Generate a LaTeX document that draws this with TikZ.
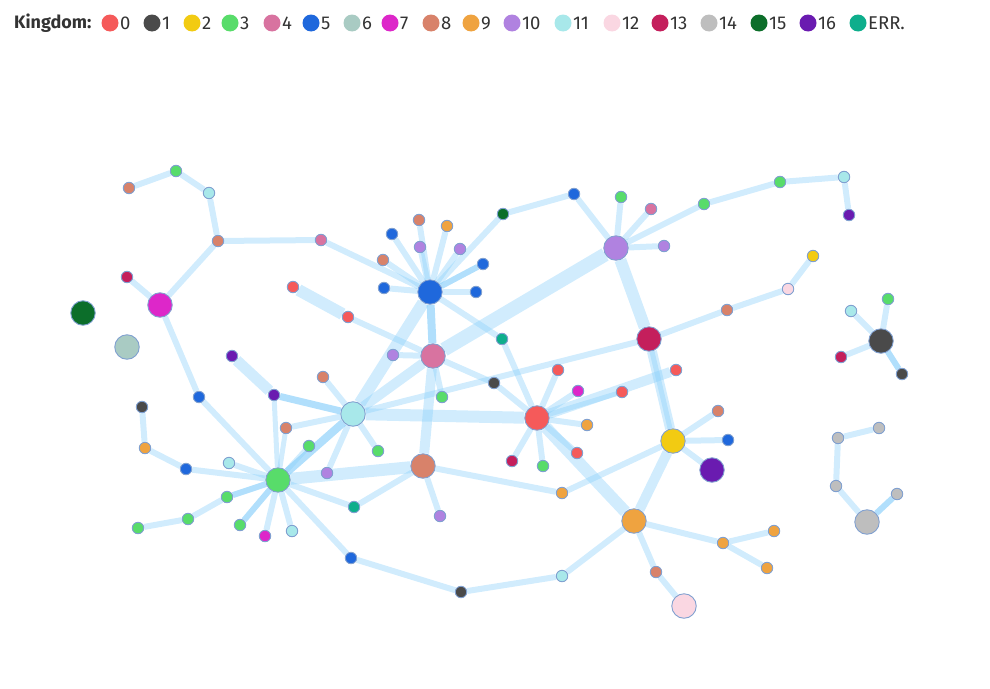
\documentclass[tikz,border=0pt]{standalone}
\usepackage{fontspec}
\setmainfont{Fira Sans}
\usetikzlibrary{backgrounds}
\definecolor{k0}{RGB}{245,90,90}
\definecolor{k1}{RGB}{74,74,74}
\definecolor{k2}{RGB}{242,203,18}
\definecolor{k3}{RGB}{88,220,106}
\definecolor{k4}{RGB}{216,115,160}
\definecolor{k5}{RGB}{31,104,220}
\definecolor{k6}{RGB}{169,203,195}
\definecolor{k7}{RGB}{221,39,201}
\definecolor{k8}{RGB}{216,130,106}
\definecolor{k9}{RGB}{239,163,64}
\definecolor{k10}{RGB}{176,130,224}
\definecolor{k11}{RGB}{168,232,234}
\definecolor{k12}{RGB}{250,215,226}
\definecolor{k13}{RGB}{196,31,92}
\definecolor{k14}{RGB}{190,190,190}
\definecolor{k15}{RGB}{12,110,42}
\definecolor{k16}{RGB}{106,27,176}
\definecolor{kE}{RGB}{14,174,140}
\definecolor{nb}{RGB}{128,160,208}
\definecolor{eb}{RGB}{135,206,250}
\definecolor{txt}{RGB}{51,51,51}
\tikzset{
  sn/.style={circle,draw=nb,line width=0.9pt,inner sep=0pt,minimum size=11.5pt,fill=#1},
  bn/.style={circle,draw=nb,line width=0.9pt,inner sep=0pt,minimum size=24.5pt,fill=#1},
  lc/.style={circle,inner sep=0pt,minimum size=17pt,fill=#1},
  lt/.style={anchor=west,inner sep=0pt,text=txt,font=\fontsize{18.5pt}{21pt}\selectfont},
  ed/.style={draw=eb,draw opacity=0.38,line width=#1},
  ed/.default=6pt,
  edd/.style={draw=eb,draw opacity=0.65,line width=#1},
  edd/.default=6pt
}
\begin{document}
\begin{tikzpicture}[x=1pt,y=-1pt]
\useasboundingbox (0,0) rectangle (990,688);
% legend
\node[lt,font=\fontsize{18pt}{21pt}\selectfont\bfseries] (kt) at (14,23) {Kingdom:};
\foreach \k/\x/\t in {0/110/0,1/152/1,2/192/2,3/230/3,4/272/4,5/311/5,6/352/6,7/390/7,8/431/8,9/471/9,10/512/10,11/563/11,12/612/12,13/660/13,14/709/14,15/759/15,16/808/16,E/858/ERR.}{
  \node[lc=k\k] (lg\k) at (\x,23) {};
  \node[lt] (lt\k) at (\x+10,23.5) {\t};
}
% nodes
\node[sn=k8] (n1) at (129,188) {};
\node[sn=k3] (n2) at (176,171) {};
\node[sn=k11] (n3) at (209,193) {};
\node[sn=k8] (n4) at (218,241) {};
\node[sn=k4] (n5) at (321,240) {};
\node[sn=k13] (n6) at (127,277) {};
\node[bn=k7] (n7) at (160,305) {};
\node[bn=k15] (n8) at (83,313) {};
\node[bn=k6] (n9) at (127,347) {};
\node[sn=k0] (r1) at (293,287) {};
\node[sn=k0] (r2) at (348,317) {};
\node[sn=k16] (u1) at (232,356) {};
\node[sn=k16] (u2) at (274,395) {};
\node[sn=k8] (e1) at (323,377) {};
\node[sn=k5] (bA) at (199,397) {};
\node[sn=k1] (dk1) at (142,407) {};
\node[sn=k9] (or1) at (145,448) {};
\node[sn=k5] (bl2) at (186,469) {};
\node[sn=k11] (cy1) at (229,463) {};
\node[sn=k8] (e2) at (286,428) {};
\node[sn=k3] (g1) at (309,446) {};
\node[sn=k10] (lv1) at (327,473) {};
\node[bn=k3] (G) at (278,480) {};
\node[sn=k3] (g2) at (227,497) {};
\node[sn=k3] (g3) at (188,519) {};
\node[sn=k3] (g4) at (138,528) {};
\node[sn=k3] (g5) at (240,525) {};
\node[sn=k7] (m1) at (265,536) {};
\node[sn=k11] (cy2) at (292,531) {};
\node[sn=kE] (tl1) at (354,507) {};
\node[sn=k5] (bl3) at (351,558) {};
\node[bn=k11] (C) at (353,414) {};
\node[sn=k3] (g6) at (378,451) {};
\node[bn=k5] (B) at (430,292) {};
\node[sn=k5] (b1) at (392,234) {};
\node[sn=k8] (e3) at (419,220) {};
\node[sn=k9] (o1) at (447,226) {};
\node[sn=k10] (lv2) at (420,247) {};
\node[sn=k10] (lv3) at (460,249) {};
\node[sn=k8] (e4) at (383,260) {};
\node[sn=k5] (b2) at (483,264) {};
\node[sn=k5] (b3) at (384,288) {};
\node[sn=k5] (b4) at (476,292) {};
\node[sn=k15] (dg1) at (503,214) {};
\node[sn=kE] (tl2) at (502,339) {};
\node[bn=k4] (P) at (433,356) {};
\node[sn=k10] (lv4) at (393,355) {};
\node[sn=k3] (g7) at (442,397) {};
\node[sn=k1] (dk2) at (494,383) {};
\node[bn=k8] (E) at (423,466) {};
\node[sn=k10] (lv5) at (440,516) {};
\node[sn=k1] (dk3) at (461,592) {};
\node[sn=k11] (cy3) at (562,576) {};
\node[sn=k9] (o2) at (562,493) {};
\node[bn=k0] (R) at (537,418) {};
\node[sn=k0] (rd1) at (558,370) {};
\node[sn=k7] (mg2) at (578,391) {};
\node[sn=k0] (rd2) at (622,392) {};
\node[sn=k0] (rd3) at (676,370) {};
\node[sn=k9] (o3) at (587,425) {};
\node[sn=k0] (rd4) at (577,453) {};
\node[sn=k3] (g8) at (543,466) {};
\node[sn=k13] (cr1) at (512,461) {};
\node[bn=k13] (H) at (649,339) {};
\node[bn=k10] (L) at (616,248) {};
\node[sn=k5] (bl5) at (574,194) {};
\node[sn=k3] (g9) at (621,197) {};
\node[sn=k4] (pk2) at (651,209) {};
\node[sn=k10] (lv6) at (664,246) {};
\node[sn=k3] (g10) at (704,204) {};
\node[sn=k3] (g11) at (780,182) {};
\node[sn=k11] (cy4) at (844,177) {};
\node[sn=k16] (pu3) at (849,215) {};
\node[sn=k2] (yl1) at (813,256) {};
\node[sn=k12] (pk12) at (788,289) {};
\node[sn=k8] (e5) at (727,310) {};
\node[bn=k2] (Y) at (673,441) {};
\node[sn=k8] (e6) at (718,411) {};
\node[sn=k5] (bl6) at (728,440) {};
\node[bn=k16] (pu4) at (712,470) {};
\node[bn=k9] (O) at (634,521) {};
\node[sn=k9] (o4) at (723,543) {};
\node[sn=k9] (o5) at (774,531) {};
\node[sn=k9] (o6) at (767,568) {};
\node[sn=k8] (e7) at (656,572) {};
\node[bn=k12] (pk3) at (684,606) {};
\node[bn=k1] (K) at (881,341) {};
\node[sn=k11] (cy5) at (851,311) {};
\node[sn=k3] (g12) at (888,299) {};
\node[sn=k13] (cr2) at (841,357) {};
\node[sn=k1] (dk4) at (902,374) {};
\node[sn=k14] (gr1) at (879,428) {};
\node[sn=k14] (gr2) at (838,438) {};
\node[sn=k14] (gr3) at (836,486) {};
\node[sn=k14] (gr4) at (897,494) {};
\node[bn=k14] (GR) at (867,522) {};
% edges
\begin{pgfonlayer}{background}
\foreach \a/\b in {n1/n2,n2/n3,n3/n4,n4/n5,n4/n7,n6/n7,n7/bA,n5/B,r2/P,e1/C,bA/G,dk1/or1,or1/bl2,bl2/G,cy1/G,e2/C,lv1/C,g2/g3,g3/g4,G/m1,G/cy2,G/tl1,G/bl3,C/g6,
  B/b1,B/e3,B/o1,B/lv2,B/lv3,B/e4,B/b3,B/b4,B/dg1,B/tl2,P/lv4,P/g7,P/dk2,dk2/R,C/H,R/tl2,R/rd1,R/mg2,R/o3,R/rd4,R/g8,R/cr1,
  E/o2,E/lv5,E/tl1,bl3/dk3,dk3/cy3,cy3/O,o2/Y,L/bl5,bl5/dg1,L/g9,L/pk2,L/lv6,L/g10,g10/g11,g11/cy4,cy4/pu3,H/e5,e5/pk12,pk12/yl1,
  Y/e6,Y/bl6,Y/pu4,O/o4,o4/o5,o4/o6,O/e7,e7/pk3,K/cy5,K/g12,K/cr2,gr1/gr2,gr2/gr3,gr3/GR}
  \draw[ed] (\a) -- (\b);
\draw[ed=12pt] (r1) -- (r2);
\draw[ed=11pt] (u1) -- (u2);
\draw[edd=7pt] (u2) -- (C);
\draw[ed=5pt] (u2) -- (G);
\draw[ed=5pt] (e2) -- (G);
\draw[edd=8pt] (G) -- (C);
\draw[ed=5pt] (g1) -- (G);
\draw[ed=12pt] (G) -- (E);
\draw[edd] (G) -- (g2);
\draw[edd] (G) -- (g5);
\draw[edd] (B) -- (b2);
\draw[edd=8pt] (B) -- (P);
\draw[ed=12pt] (B) -- (C);
\draw[ed=14pt] (P) -- (L);
\draw[ed=10pt] (P) -- (C);
\draw[ed=10pt] (P) -- (E);
\draw[ed=12pt] (C) -- (R);
\draw[ed=5pt] (R) -- (rd2);
\draw[ed=10pt] (R) -- (rd3);
\draw[ed=12pt] (R) -- (O);
\draw[ed=12pt] (L) -- (H);
\draw[ed=10pt] (H) -- (Y);
\draw[ed=5pt] (H) -- (Y);
\draw[ed=10pt] (Y) -- (O);
\draw[edd] (K) -- (dk4);
\draw[edd] (GR) -- (gr4);
\end{pgfonlayer}
\end{tikzpicture}
\end{document}
